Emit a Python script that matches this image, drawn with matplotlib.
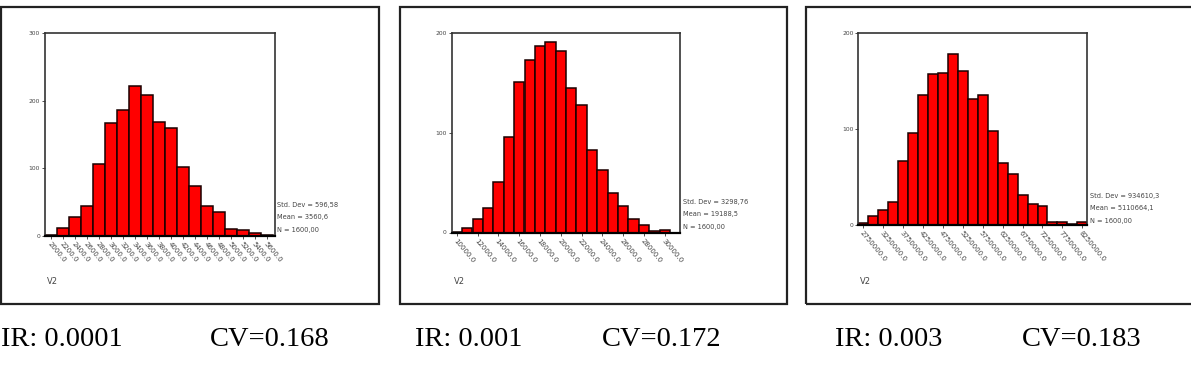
import matplotlib
matplotlib.use("Agg")
import matplotlib.pyplot as plt
from matplotlib.patches import Rectangle
import numpy as np

# histogram data (bin centres, counts)
centers1 = np.arange(2000, 5601, 200)
counts1 = [1, 12, 28, 44, 107, 167, 186, 222, 208, 169, 160, 102, 74, 44, 35, 10, 9, 4, 2]
ticks1 = np.arange(2000, 5601, 200)

centers2 = np.arange(10000, 31001, 1000)
counts2 = [1, 5, 14, 25, 51, 96, 151, 173, 187, 191, 182, 145, 128, 83, 63, 40, 27, 14, 8, 2, 3, 0]
ticks2 = np.arange(10000, 30001, 2000)

centers3 = np.arange(2750000, 8250001, 250000)
counts3 = [2, 9, 16, 24, 67, 96, 135, 157, 158, 178, 160, 131, 135, 98, 65, 53, 31, 22, 20, 3, 3, 1, 3]
ticks3 = np.arange(2750000, 8250001, 500000)

stats1 = ["Std. Dev = 596,58", "Mean = 3560,6", "N = 1600,00"]
stats2 = ["Std. Dev = 3298,76", "Mean = 19188,5", "N = 1600,00"]
stats3 = ["Std. Dev = 934610,3", "Mean = 5110664,1", "N = 1600,00"]

captions = [("IR: 0.0001", "CV=0.168"), ("IR: 0.001", "CV=0.172"), ("IR: 0.003", "CV=0.183")]

W, H = 1191, 371
fig = plt.figure(figsize=(W / 100, H / 100), dpi=100)

def fx(px):
    return px / W

def fy(py):
    return 1 - py / H

# outer panel frames (pixel coords)
for x0, x1 in [(1, 379), (400, 787), (806, 1196)]:
    fig.add_artist(Rectangle((fx(x0), fy(304)), fx(x1 - x0), (304 - 7) / H,
                             transform=fig.transFigure, fill=False,
                             edgecolor="#222222", linewidth=1.6))

panels = [
    dict(box=(45, 275, 33, 236), c=centers1, n=counts1, w=200, t=ticks1,
         xlim=(1900, 5730), ylim=300, yt=[0, 100, 200, 300], st=stats1, sx=277, sy=[205, 217, 230]),
    dict(box=(451.7, 680.5, 33, 232.5), c=centers2, n=counts2, w=1000, t=ticks2,
         xlim=(9500, 31500), ylim=200, yt=[0, 100, 200], st=stats2, sx=683, sy=[202, 214, 227]),
    dict(box=(858.3, 1087.3, 33, 225), c=centers3, n=counts3, w=250000, t=ticks3,
         xlim=(2625000, 8375000), ylim=200, yt=[0, 100, 200], st=stats3, sx=1090, sy=[196, 208, 221]),
]

for p in panels:
    l, r, t, b = p["box"]
    ax = fig.add_axes([fx(l), fy(b), fx(r - l), (b - t) / H])
    ax.bar(p["c"], p["n"], width=p["w"], color="#ff0000", edgecolor="#1a0000", linewidth=1.1)
    ax.set_xlim(*p["xlim"])
    ax.set_ylim(0, p["ylim"])
    ax.set_yticks(p["yt"])
    ax.set_yticklabels([str(v) for v in p["yt"]], fontsize=4.3, color="#444444")
    ax.set_xticks(p["t"])
    ax.set_xticklabels([f"{v}.0" for v in p["t"]], fontsize=5, color="#444444",
                       rotation=-50, ha="left", va="top", rotation_mode="anchor")
    ax.tick_params(axis="both", length=2, width=0.6, color="#333333", pad=1.5)
    for s in ax.spines.values():
        s.set_linewidth(1.2)
        s.set_color("#333333")
    ax.spines["bottom"].set_linewidth(1.6)
    ax.spines["bottom"].set_color("#000000")
    for txt, yy in zip(p["st"], p["sy"]):
        fig.text(fx(p["sx"]), fy(yy), txt, fontsize=4.8, color="#444444", va="center", ha="left")
    fig.text(fx(l + 2), fy(282), "V2", fontsize=6, color="#444444", va="center", ha="left")

# captions under the panels
cap_x = [(1, 210), (415, 602), (835, 1022)]
for (a, b), (x1, x2) in zip(captions, cap_x):
    fig.text(fx(x1), fy(339), a, family="Liberation Serif", fontsize=20.5, va="center", ha="left")
    fig.text(fx(x2), fy(339), b, family="Liberation Serif", fontsize=20.5, va="center", ha="left")

fig.savefig("out.png", dpi=100)
